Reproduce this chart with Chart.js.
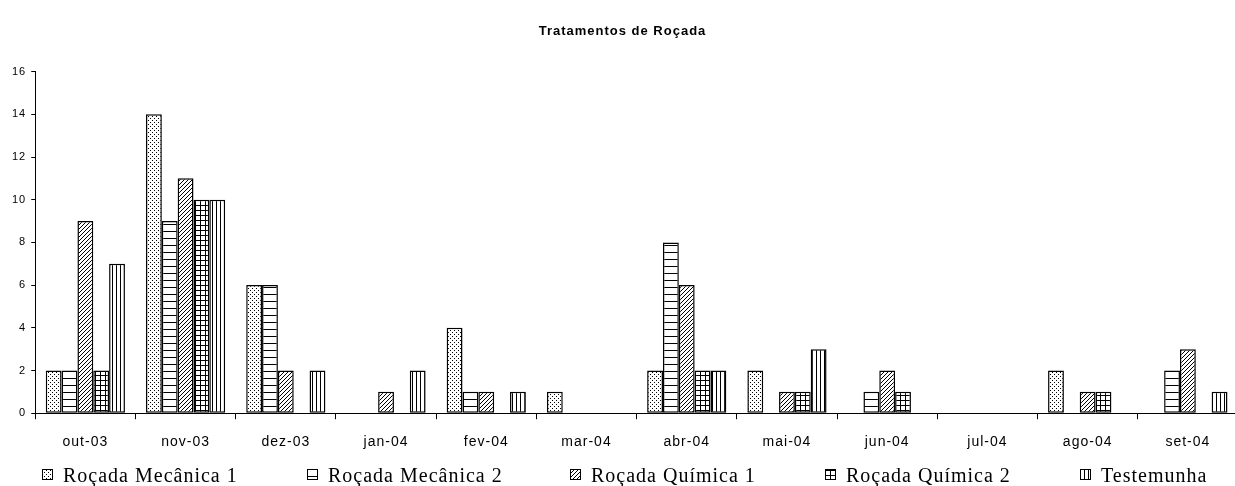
<!DOCTYPE html>
<html>
<head>
<meta charset="utf-8">
<script src="https://cdn.jsdelivr.net/npm/chart.js@4"></script>
<style>
  html, body { margin:0; padding:0; overflow:hidden; background:#fff; }
  canvas { display:block; }
</style>
</head>
<body>
<canvas id="grafico" width="1240" height="486"></canvas>
<script>
// ====== dados ======
const MESES = ["out-03","nov-03","dez-03","jan-04","fev-04","mar-04","abr-04","mai-04","jun-04","jul-04","ago-04","set-04"];
const TRATAMENTOS = ["Roçada Mecânica 1","Roçada Mecânica 2","Roçada Química 1","Roçada Química 2","Testemunha"];
const MECANICA_1 = [2,14,6,0,4,1,2,2,0,0,2,0];
const MECANICA_2 = [2, 9,6,0,1,0,8,0,1,0,0,2];
const QUIMICA_1  = [9,11,2,1,1,0,6,1,2,0,1,3];
const QUIMICA_2  = [2,10,0,0,0,0,2,1,1,0,1,0];
const TESTEMUNHA = [7,10,2,2,1,0,2,3,0,0,0,1];
const Y_TICKS = [0,2,4,6,8,10,12,14,16];

// ====== padrões (hachuras) ======
function padrao(tipo) {
  const tam = {pontos:4, horizontal:7, diagonal:4, grade:5, vertical:4}[tipo];
  const c = document.createElement("canvas");
  c.width = c.height = tam;
  const g = c.getContext("2d");
  g.fillStyle = "#fff"; g.fillRect(0,0,tam,tam);
  g.fillStyle = "#000";
  if (tipo === "pontos")     { g.fillRect(0,0,1,1); g.fillRect(2,2,1,1); }
  if (tipo === "horizontal") g.fillRect(0,0,tam,1);
  if (tipo === "vertical")   g.fillRect(0,0,1,tam);
  if (tipo === "grade")      { g.fillRect(0,0,tam,1); g.fillRect(0,0,1,tam); }
  if (tipo === "diagonal")   for (let i=0;i<tam;i++) g.fillRect(i,tam-1-i,1,1);
  return g.createPattern(c, "repeat");
}

const SERIES = [MECANICA_1, MECANICA_2, QUIMICA_1, QUIMICA_2, TESTEMUNHA];
const PADROES = ["pontos","horizontal","diagonal","grade","vertical"];

// espaçamento de letras parecido com o Excel
const espacamento = {
  id: "espacamento",
  beforeLayout(chart) { chart.ctx.letterSpacing = "1px"; },
  beforeDraw(chart)   { chart.ctx.letterSpacing = "1px"; }
};

// legenda desenhada à mão (posições fixas como no original)
const legendaManual = {
  id: "legendaManual",
  afterDraw(chart, args, o) {
    const ctx = chart.ctx;
    ctx.save();
    ctx.letterSpacing = "1px";
    ctx.font = '20px "Liberation Serif", "Times New Roman", serif';
    ctx.textBaseline = "alphabetic";
    chart.data.datasets.forEach((ds, i) => {
      const x = o.xs[i];
      ctx.fillStyle = ds.backgroundColor;
      ctx.fillRect(x, o.boxY, o.box, o.box);
      ctx.strokeStyle = "#000"; ctx.lineWidth = 1;
      ctx.strokeRect(x+0.5, o.boxY+0.5, o.box-1, o.box-1);
      ctx.fillStyle = "#000";
      ctx.fillText(ds.label, x + o.gap, o.textY);
    });
    ctx.restore();
  }
};

new Chart(document.getElementById("grafico"), {
  type: "bar",
  data: {
    labels: MESES,
    datasets: TRATAMENTOS.map((nome, i) => ({
      label: nome,
      data: SERIES[i],
      backgroundColor: padrao(PADROES[i]),
      borderColor: "#000",
      borderWidth: 1.5,
      borderSkipped: false,
      categoryPercentage: 0.79,
      barPercentage: 1
    }))
  },
  options: {
    responsive: false,
    animation: false,
    events: [],
    layout: { padding: { left: 7, right: 2, top: 0, bottom: 20 } },
    plugins: {
      legend: { display: false },
      tooltip: { enabled: false },
      title: {
        display: true,
        text: "Tratamentos de Roçada",
        color: "#000",
        font: { family: '"Liberation Sans", Arial, sans-serif', size: 13, weight: "bold" },
        padding: { top: 24, bottom: 32 }
      },
      legendaManual: { xs: [42, 307, 570, 825, 1080], box: 11, boxY: 469, gap: 21, textY: 482 }
    },
    scales: {
      x: {
        grid: { display: true, drawOnChartArea: false, drawTicks: true, tickLength: 6, color: "#000", offset: true },
        border: { color: "#000", width: 1 },
        ticks: { color: "#000", padding: 15, maxRotation: 0, font: { family: '"Liberation Sans", Arial, sans-serif', size: 14 } }
      },
      y: {
        min: 0, max: 16,
        afterBuildTicks: s => { s.ticks = Y_TICKS.map(v => ({ value: v })); },
        grid: { display: true, drawOnChartArea: false, drawTicks: true, tickLength: 4, color: "#000" },
        border: { color: "#000", width: 1 },
        ticks: { color: "#000", padding: 5, font: { family: '"Liberation Sans", Arial, sans-serif', size: 11 } }
      }
    }
  },
  plugins: [espacamento, legendaManual]
});
</script>
</body>
</html>
